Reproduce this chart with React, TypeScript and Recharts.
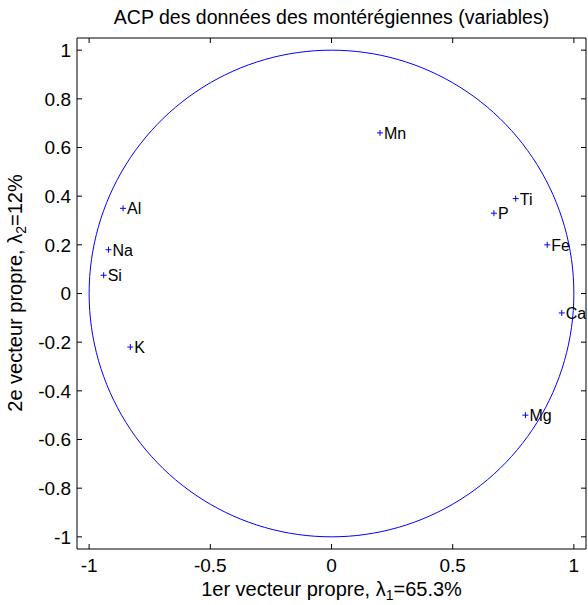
import { ScatterChart, Scatter, XAxis, YAxis } from "recharts";

const variables = ["Mn", "Ti", "P", "Fe", "Ca", "Al", "Na", "Si", "K", "Mg"];
const pc1 = [0.2, 0.76, 0.67, 0.89, 0.95, -0.86, -0.92, -0.94, -0.83, 0.8];
const pc2 = [0.66, 0.39, 0.33, 0.2, -0.08, 0.35, 0.18, 0.075, -0.22, -0.5];

const xTicks = [-1, -0.5, 0, 0.5, 1];
const yTicks = [-1, -0.8, -0.6, -0.4, -0.2, 0, 0.2, 0.4, 0.6, 0.8, 1];

// correlation circle of radius 1 (geometry, not data)
const circle = Array.from({ length: 181 }, (_, i) => {
  const t = (i / 180) * 2 * Math.PI;
  return { x: Math.cos(t), y: Math.sin(t) };
});

const points = variables.map((name, i) => ({ name, x: pc1[i], y: pc2[i] }));

const FONT = "'Liberation Sans', Arial, sans-serif";
const BLUE = "#0000ff";

const PlusMarker = (props: any) => {
  const { cx, cy, payload } = props;
  return (
    <g>
      <line x1={cx - 3} x2={cx + 3} y1={cy} y2={cy} stroke={BLUE} strokeWidth={1} />
      <line x1={cx} x2={cx} y1={cy - 3} y2={cy + 3} stroke={BLUE} strokeWidth={1} />
      <text x={cx + 4} y={cy + 6} fontSize={16} fill="#000" fontFamily={FONT}>
        {payload.name}
      </text>
    </g>
  );
};

const NoTick = () => <g />;

export default function App() {
  const tickStyle = { fontSize: 19, fill: "#000", fontFamily: FONT };
  return (
    <div style={{ position: "absolute", left: 0, top: 0, background: "#fff" }}>
      <ScatterChart
        width={588}
        height={605}
        margin={{ top: 37, right: 1, left: 0, bottom: 0 }}
      >
        <XAxis
          xAxisId="b"
          type="number"
          dataKey="x"
          domain={[-1.05, 1.05]}
          ticks={xTicks}
          tickFormatter={(v: number) => String(v)}
          tick={tickStyle}
          tickSize={-5}
          tickMargin={15}
          tickLine={{ stroke: "#000" }}
          axisLine={{ stroke: "#000" }}
          height={56}
          allowDataOverflow
        />
        <XAxis
          xAxisId="t"
          orientation="top"
          type="number"
          dataKey="x"
          domain={[-1.05, 1.05]}
          ticks={xTicks}
          tick={NoTick}
          tickSize={-5}
          tickLine={{ stroke: "#000" }}
          axisLine={{ stroke: "#000" }}
          height={1}
          allowDataOverflow
        />
        <YAxis
          yAxisId="l"
          type="number"
          dataKey="y"
          domain={[-1.05, 1.05]}
          ticks={yTicks}
          tickFormatter={(v: number) => String(v)}
          tick={tickStyle}
          tickSize={-5}
          tickMargin={11}
          tickLine={{ stroke: "#000" }}
          axisLine={{ stroke: "#000" }}
          width={77}
          allowDataOverflow
        />
        <YAxis
          yAxisId="r"
          orientation="right"
          type="number"
          dataKey="y"
          domain={[-1.05, 1.05]}
          ticks={yTicks}
          tick={NoTick}
          tickSize={-5}
          tickLine={{ stroke: "#000" }}
          axisLine={{ stroke: "#000" }}
          width={1}
          allowDataOverflow
        />
        <Scatter
          xAxisId="b"
          yAxisId="l"
          data={circle}
          line={{ stroke: BLUE, strokeWidth: 1 }}
          lineType="joint"
          shape={() => <g />}
          isAnimationActive={false}
        />
        <Scatter
          xAxisId="b"
          yAxisId="l"
          data={points}
          shape={PlusMarker}
          isAnimationActive={false}
        />
        <text x={331.5} y={24} textAnchor="middle" fontSize={19.5} fontFamily={FONT} fill="#000">
          ACP des données des montérégiennes (variables)
        </text>
        <text x={331.5} y={596} textAnchor="middle" fontSize={20} fontFamily={FONT} fill="#000">
          1er vecteur propre, λ<tspan fontSize={14} dy={4}>1</tspan>
          <tspan dy={-4}>=65.3%</tspan>
        </text>
        <text
          x={0}
          y={0}
          transform="translate(22,293) rotate(-90)"
          textAnchor="middle"
          fontSize={20}
          fontFamily={FONT}
          fill="#000"
        >
          2e vecteur propre, λ<tspan fontSize={14} dy={4}>2</tspan>
          <tspan dy={-4}>=12%</tspan>
        </text>
      </ScatterChart>
    </div>
  );
}
